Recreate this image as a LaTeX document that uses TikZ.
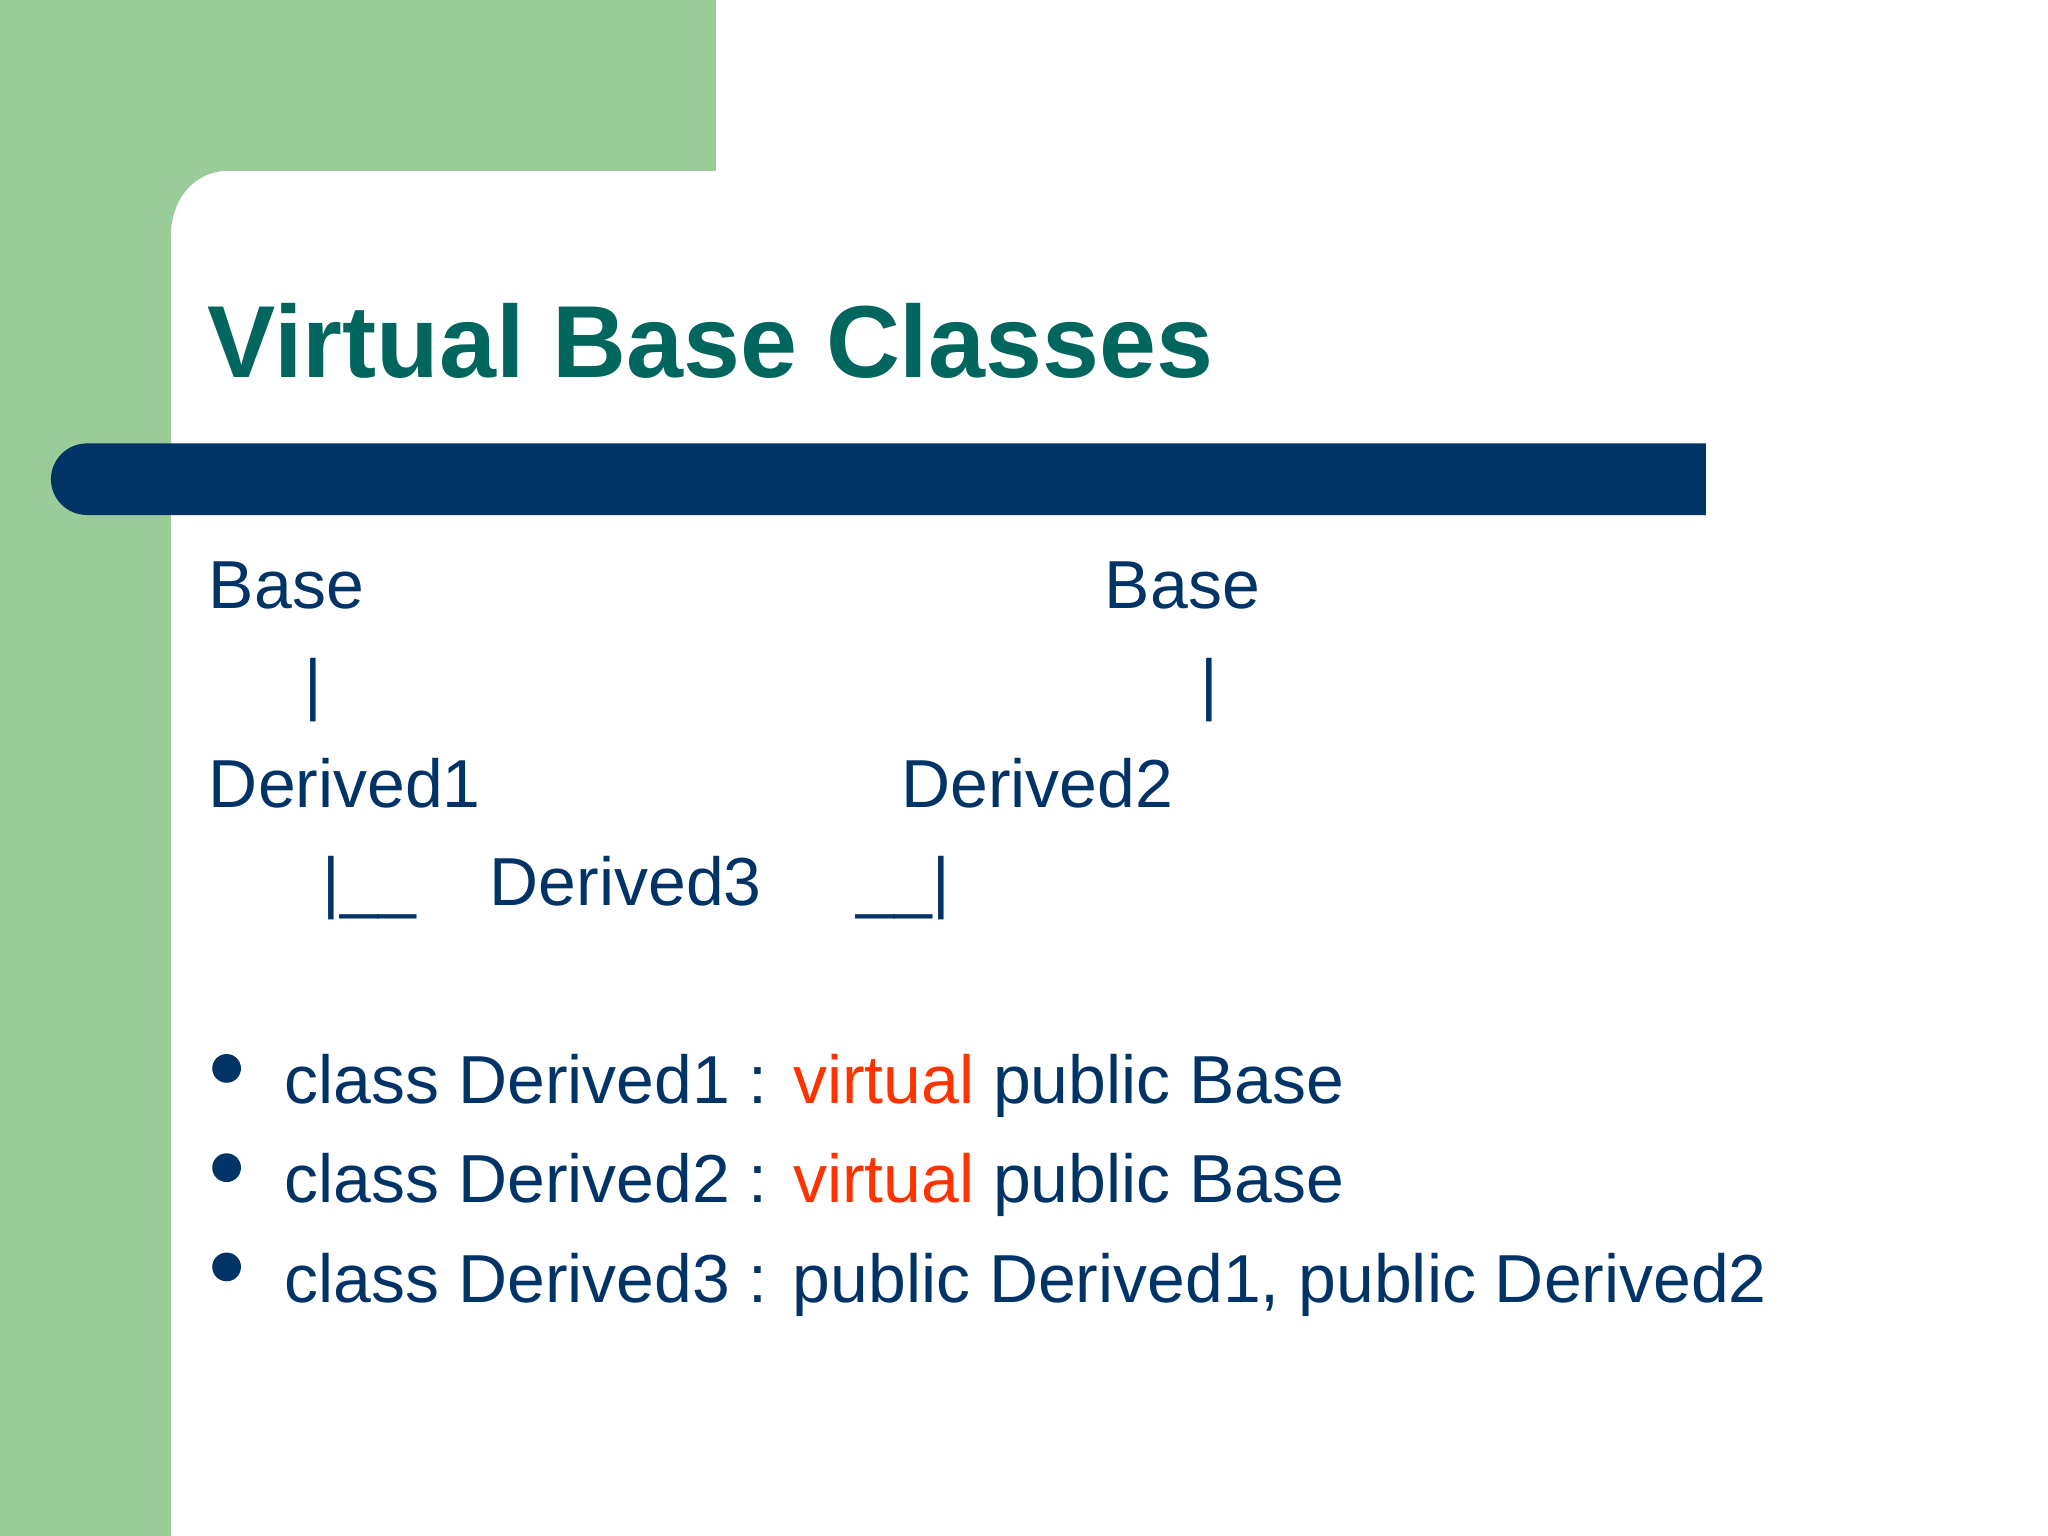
\documentclass[tikz,border=0pt]{standalone}
\usepackage{fontspec}
\setmainfont{Liberation Sans}
\definecolor{lgreen}{RGB}{153,204,153}
\definecolor{navy}{RGB}{0,51,102}
\definecolor{teal}{RGB}{0,102,94}
\definecolor{vred}{RGB}{255,51,0}
\begin{document}
\begin{tikzpicture}[x=0.75pt,y=-0.75pt,
  txt/.style={anchor=base west, inner sep=0pt, outer sep=0pt, text=navy, font=\fontsize{39}{47}\selectfont},
  titletxt/.style={anchor=base west, inner sep=0pt, outer sep=0pt, text=teal, font=\fontsize{58.8}{70}\selectfont\bfseries},
  bulletdot/.style={circle, fill=navy, inner sep=0pt, minimum size=16.5pt}]
\useasboundingbox (0,0) rectangle (1568,1176);
\fill[white] (0,0) rectangle (1568,1176);
% green frame
\fill[lgreen] (0,0) rectangle (548.5,130.7);
\fill[lgreen] (0,0) rectangle (130.9,1176);
\fill[lgreen] (130.5,130.5) -- (177,130.5) .. controls (150,130.5) and (130.5,150) .. (130.5,184) -- cycle;
% navy bar
\fill[navy] (66.5,339.5) -- (1306,339.5) -- (1306,394.3) -- (66.5,394.3)
  .. controls (51.4,394.3) and (39,382) .. (39,366.9)
  .. controls (39,351.8) and (51.4,339.5) .. (66.5,339.5) -- cycle;
% title
\node[titletxt] (title) at (159,289) {Virtual Base Classes};
% hierarchy
\node[txt] (base1) at (160,466) {Base};
\node[txt] (base2) at (846,466) {Base};
\node[txt] (pipe1) at (233,542) {|};
\node[txt] (pipe2) at (919,542) {|};
\node[txt] (der1) at (160,618) {Derived1};
\node[txt] (der2) at (690,618) {Derived2};
\node[txt] (join1) at (247,693) {|\_\_};
\node[txt] (der3) at (375,693) {Derived3};
\node[txt] (join2) at (656,693) {\_\_|};
% bullets
\node[bulletdot] (b1) at (173.5,818) {};
\node[bulletdot] (b2) at (173.5,894) {};
\node[bulletdot] (b3) at (173.5,970) {};
\node[txt] (l1) at (218,845) {class Derived1 : \textcolor{vred}{virtual} public Base};
\node[txt] (l2) at (218,921) {class Derived2 : \textcolor{vred}{virtual} public Base};
\node[txt] (l3) at (218,997) {class Derived3 : public Derived1, public Derived2};
\end{tikzpicture}
\end{document}
